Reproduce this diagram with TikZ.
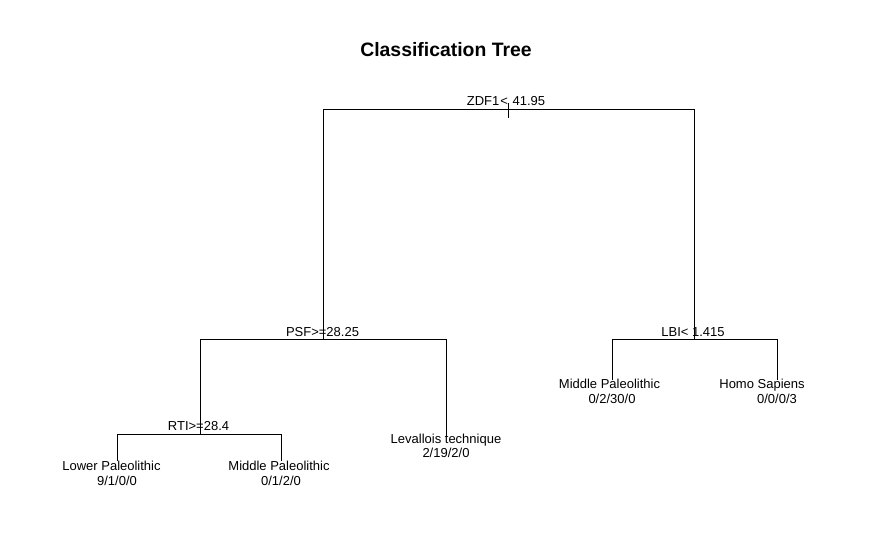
\documentclass[tikz,border=0pt]{standalone}
\usepackage{fontspec}
\setmainfont{Liberation Sans}
\usepackage{tikz}

\tikzset{
  splitlabel/.style={anchor=base, inner sep=0pt, font=\fontsize{13}{15}\selectfont},
  leaflabel/.style={anchor=base, inner sep=0pt, font=\fontsize{13}{15}\selectfont},
  branch/.style={black, line width=1pt}
}

\begin{document}
\begin{tikzpicture}[x=1pt, y=-1pt]
            \useasboundingbox (0,0) rectangle (894,533);
            \node[anchor=base, inner sep=0pt, font=\bfseries\fontsize{19.4}{22}\selectfont] (title) at (446,56.5) {Classification Tree};
            % split points
            \coordinate (root) at (508,109);
            \coordinate (roottop) at (508,103);
            \coordinate (rootbot) at (508,118);
            \coordinate (psf) at (323,339);
            \coordinate (lbi) at (694,339);
            \coordinate (rti) at (200,434);
            % leaf ends
            \coordinate (lowpal) at (117,461);
            \coordinate (midpalA) at (281,461);
            \coordinate (leval) at (446,437);
            \coordinate (midpalB) at (612,380);
            \coordinate (homsap) at (777,380);
            % branches
            \draw[branch] (roottop) -- (rootbot);
            \draw[branch] (psf) |- (root);
            \draw[branch] (lbi) |- (root);
            \draw[branch] (rti) |- (psf);
            \draw[branch] (leval) |- (psf);
            \draw[branch] (midpalB) |- (lbi);
            \draw[branch] (homsap) |- (lbi);
            \draw[branch] (lowpal) |- (rti);
            \draw[branch] (midpalA) |- (rti);
            % split labels
            \node[splitlabel] (rootlab) at (506,105) {ZDF1\kern1pt<\kern1pt\ 41.95};
            \node[splitlabel] (psflab) at (322.5,336) {PSF>=28.25};
            \node[splitlabel] (lbilab) at (693,336) {LBI<\ 1.415};
            \node[splitlabel] (rtilab) at (198.5,430.5) {RTI>=28.4};
            % leaf labels
            \node[leaflabel] (lowpallab) at (111.5,470) {Lower Paleolithic};
            \node[leaflabel] (lowpalcnt) at (117,485) {9/1/0/0};
            \node[leaflabel] (midpalAlab) at (279,470) {Middle Paleolithic};
            \node[leaflabel] (midpalAcnt) at (281,485) {0/1/2/0};
            \node[leaflabel] (levallab) at (446,443.5) {Levallois technique};
            \node[leaflabel] (levalcnt) at (446,457) {2/19/2/0};
            \node[leaflabel] (midpalBlab) at (609.5,388) {Middle Paleolithic};
            \node[leaflabel] (midpalBcnt) at (612,403) {0/2/30/0};
            \node[leaflabel] (homsaplab) at (762,388) {Homo Sapiens};
            \node[leaflabel] (homsapcnt) at (777,403) {0/0/0/3};
\end{tikzpicture}
\end{document}
